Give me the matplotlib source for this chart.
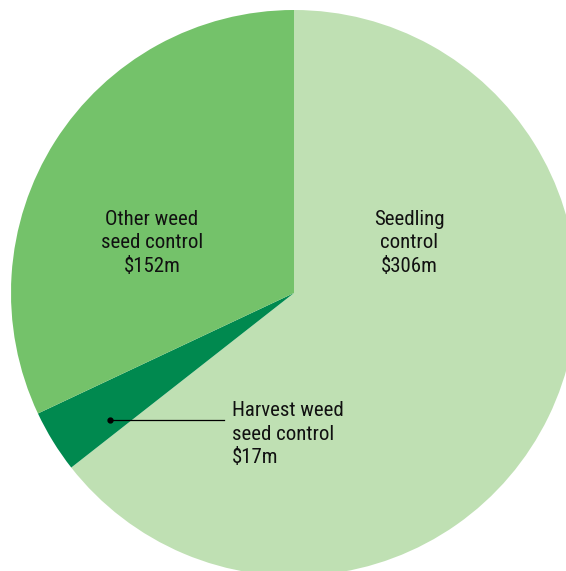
import matplotlib.pyplot as plt

# Weed control spending by category ($m)
labels = ['Seedling\ncontrol', 'Harvest weed\nseed control', 'Other weed\nseed control']
values = [306, 17, 152]
colors = ['#bfe0b3', '#00894f', '#74c26a']

W, H = 566, 571
fig = plt.figure(figsize=(W / 100, H / 100), dpi=100)
ax = fig.add_axes([0, 0, 1, 1])

ax.pie(values, colors=colors, startangle=90, counterclock=False,
       center=(294, H - 293), radius=283, frame=True,
       wedgeprops=dict(linewidth=0))
ax.set_xlim(0, W)
ax.set_ylim(0, H)
ax.set_aspect('equal')
ax.axis('off')

font = dict(family=['Roboto Condensed', 'Liberation Sans Narrow', 'Liberation Sans'],
            fontsize=15, color='#111111', linespacing=1.32)

seed_txt = f'{labels[0]}\n${values[0]}m'
other_txt = f'{labels[2]}\n${values[2]}m'
harv_txt = f'{labels[1]}\n${values[1]}m'

ax.text(409, H - 243, seed_txt, ha='center', va='center', **font)
ax.text(152, H - 243, other_txt, ha='center', va='center', **font)
ax.text(232, H - 434, harv_txt, ha='left', va='center', **font)

# leader line for the small slice
ax.plot([110, 224], [H - 420, H - 420], color='black', linewidth=0.9)
ax.plot(110, H - 420, 'o', color='black', markersize=3.5)

fig.savefig('out.png', dpi=100)
